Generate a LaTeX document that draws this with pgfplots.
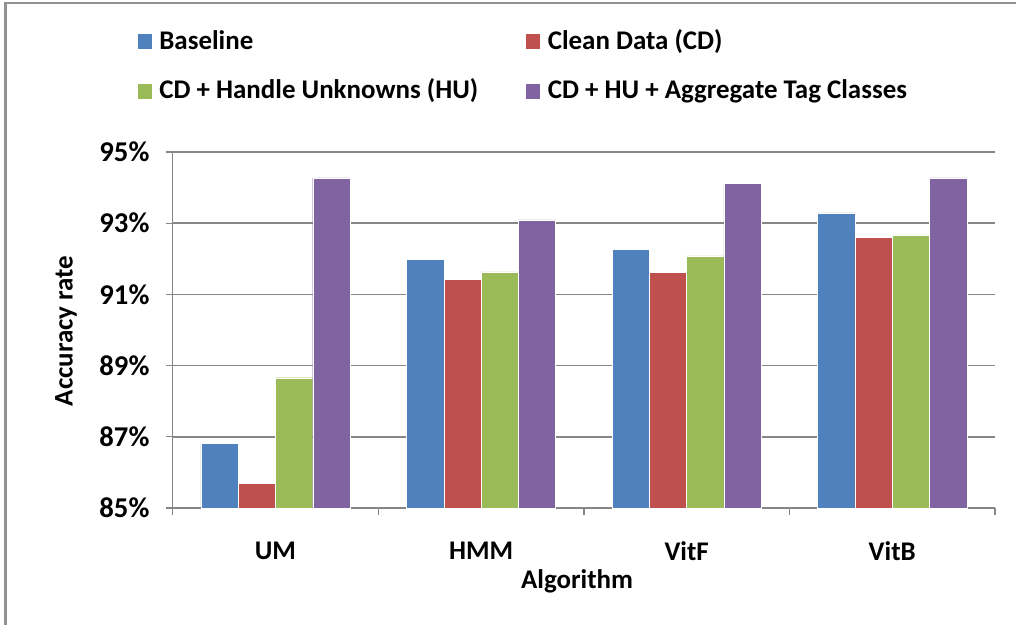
\documentclass[border=0pt]{standalone}
\usepackage{fontspec}
\setmainfont{Carlito}
\usepackage{pgfplots}
\pgfplotsset{compat=1.18}
\definecolor{cBlue}{HTML}{4F81BD}
\definecolor{cRed}{HTML}{C0504D}
\definecolor{cGreen}{HTML}{9BBB59}
\definecolor{cPurple}{HTML}{8064A2}
\definecolor{axgray}{HTML}{868686}
\newcommand{\cf}{\fontsize{20.2}{24}\selectfont\bfseries}
\newcommand{\tf}{\fontsize{21.5}{25}\selectfont\bfseries}
\begin{document}
\begin{tikzpicture}
\useasboundingbox (0,0) rectangle (762pt,468.75pt);
\draw[color=axgray!90, line width=1.9pt] (4.1pt,0) -- (4.1pt,466.6pt) -- (770pt,466.6pt);
\begin{axis}[
  scale only axis,
  width=616.75pt, height=267pt,
  at={(129.5pt,87.75pt)}, anchor=south west,
  xmin=-0.5, xmax=3.5, ymin=85, ymax=95,
  ybar=0pt, bar width=0.1813,
  axis lines=left,
  axis line style={-, draw=axgray, line width=1.1pt},
  ytick={85,87,89,91,93,95},
  yticklabels={85\%,87\%,89\%,91\%,93\%,95\%},
  xtick={0,1,2,3},
  xticklabels={UM,HMM,VitF,VitB},
  ymajorgrids,
  major grid style={draw=axgray, line width=1.1pt},
  tick align=outside,
  major tick length=5.25pt,
  ytick style={draw=axgray, line width=1pt},
  xtick style={draw=none},
  extra x ticks={-0.5,0.5,1.5,2.5,3.5},
  extra x tick labels={},
  extra x tick style={major tick length=5.25pt, tick align=outside, xtick style={draw=axgray, line width=1pt}},
  yticklabel style={font=\tf, anchor=east, inner sep=0pt, xshift=-12pt},
  xticklabel style={font=\cf, anchor=center, inner sep=0pt, yshift=-27pt},
  label style={font=\cf},
  xlabel={Algorithm},
  ylabel={Accuracy rate},
  xlabel style={at={(axis description cs:0.4917,-0.205)}, anchor=center, inner sep=0pt},
  ylabel style={at={(axis description cs:-0.1298,0.497)}, anchor=center, rotate=0, inner sep=0pt},
  legend columns=2,
  legend style={draw=none, fill=none, inner sep=0pt, outer sep=0pt,
    at={(axis description cs:-0.0434,1.333)}, anchor=north west,
    font=\cf,
    nodes={inner sep=0pt, text height=12pt, text depth=5pt, anchor=base west},
    row sep=19.75pt,
    /tikz/every odd column/.style={column sep=5.25pt},
    /tikz/every even column/.style={column sep=0pt}},
  legend image code/.code={\fill[#1] (0pt,0pt) rectangle (11.25pt,12pt);},
]
\addplot[fill=cBlue, draw=white, line width=0.3pt] coordinates {(0,86.82) (1,91.99) (2,92.27) (3,93.29)};
\addplot[fill=cRed, draw=white, line width=0.3pt] coordinates {(0,85.69) (1,91.43) (2,91.62) (3,92.61)};
\addplot[fill=cGreen, draw=white, line width=0.3pt] coordinates {(0,88.66) (1,91.63) (2,92.08) (3,92.67)};
\addplot[fill=cPurple, draw=white, line width=0.3pt] coordinates {(0,94.27) (1,93.09) (2,94.11) (3,94.27)};
\legend{\makebox[274.5pt][l]{Baseline}, Clean Data (CD), \makebox[274.5pt][l]{CD + Handle Unknowns (HU)}, CD + HU + Aggregate Tag Classes}
\end{axis}
\end{tikzpicture}
\end{document}
